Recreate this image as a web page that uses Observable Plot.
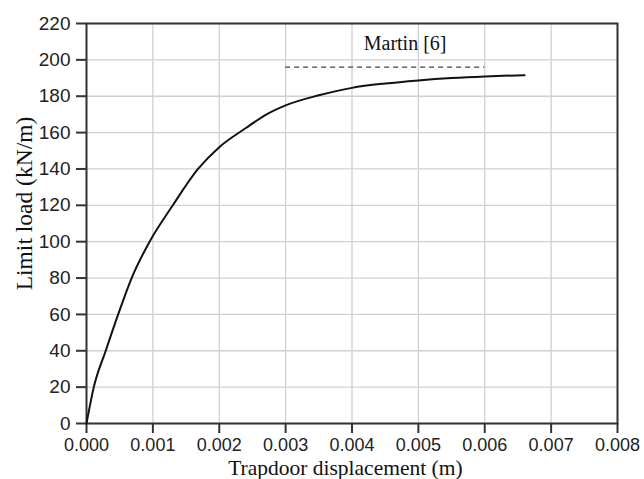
<!DOCTYPE html>
<html>
<head>
<meta charset="utf-8">
<script src="https://cdn.jsdelivr.net/npm/d3@7"></script>
<script src="https://cdn.jsdelivr.net/npm/@observablehq/plot@0.6"></script>
<style>
  html, body { margin: 0; padding: 0; background: #fff; }
</style>
</head>
<body>
<div id="chart"></div>
<script>
const displacement = [0, 0.00011, 0.00029, 0.000477, 0.00068, 0.00095, 0.0013, 0.00168, 0.002, 0.0024, 0.0027, 0.003, 0.0035, 0.004, 0.0045, 0.005, 0.0055, 0.006, 0.0066];
const limitLoad    = [0, 20, 40, 60, 80, 100, 120, 140, 152, 162.5, 169.8, 175, 180.5, 184.6, 187, 188.7, 190, 190.9, 191.6];
const xTicks = [0, 0.001, 0.002, 0.003, 0.004, 0.005, 0.006, 0.007, 0.008];
const yTicks = [0, 20, 40, 60, 80, 100, 120, 140, 160, 180, 200, 220];
const martinValue = [196];
const martinRange = [0.003, 0.006];
const martinLabel = ["Martin [6]"];
const xTitle = ["Trapdoor displacement (m)"];
const yTitle = ["Limit load (kN/m)"];

const curve = displacement.map((d, i) => ({x: d, y: limitLoad[i]}));
const serif = "'Liberation Serif', 'Times New Roman', serif";

const chart = Plot.plot({
  width: 644,
  height: 479,
  marginLeft: 86,
  marginRight: 27,
  marginTop: 23,
  marginBottom: 56,
  x: {domain: [0, 0.008]},
  y: {domain: [0, 220]},
  style: {fontFamily: "'Liberation Sans', Arial, sans-serif", fontSize: "19px", background: "#fff", color: "#222"},
  marks: [
    Plot.gridX(xTicks, {stroke: "#d0d0d0", strokeOpacity: 1, strokeWidth: 1.3}),
    Plot.gridY(yTicks, {stroke: "#d0d0d0", strokeOpacity: 1, strokeWidth: 1.3}),
    Plot.axisX({ticks: xTicks, tickFormat: d3.format(".3f"), tickSize: 10, tickPadding: 5, fontSize: 18, strokeWidth: 2, stroke: "#333", label: null}),
    Plot.axisY({ticks: yTicks, tickSize: 10, tickPadding: 6, strokeWidth: 2, stroke: "#333", label: null}),
    Plot.frame({stroke: "#333", strokeWidth: 2}),
    Plot.line(curve, {x: "x", y: "y", curve: "monotone-x", stroke: "#111", strokeWidth: 2}),
    Plot.ruleY(martinValue, {x1: martinRange[0], x2: martinRange[1], stroke: "#444", strokeWidth: 1.3, strokeDasharray: "5,4"}),
    Plot.text(martinLabel, {x: 0.0048, y: 209.2, text: d => d, fontFamily: serif, fontSize: 20, fill: "#111"}),
    Plot.text(xTitle, {x: 0.0039, frameAnchor: "bottom", lineAnchor: "middle", dy: 44.2, text: d => d, fontFamily: serif, fontSize: 21.5, fill: "#111"}),
    Plot.text(yTitle, {y: 121, frameAnchor: "left", lineAnchor: "middle", dx: -62.5, rotate: -90, textAnchor: "middle", text: d => d, fontFamily: serif, fontSize: 23.5, fill: "#111"})
  ]
});
document.getElementById("chart").appendChild(chart);
</script>
</body>
</html>
